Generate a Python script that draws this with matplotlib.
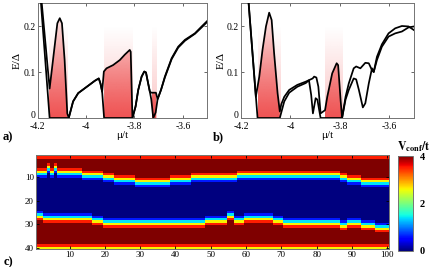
import numpy as np
import matplotlib
matplotlib.use("Agg")
import matplotlib.pyplot as plt
from matplotlib.colors import to_rgb
from matplotlib.transforms import ScaledTranslation

plt.rcParams['font.family'] = ['Liberation Serif', 'DejaVu Serif']
plt.rcParams['mathtext.fontset'] = 'stix'

# ---------------- Panel a data ----------------
a_mu_upper = [-4.20, -4.150, -4.136, -4.118, -4.108, -4.099, -4.088, -4.077, -4.071,
              -4.064, -4.053, -4.032, -3.991, -3.963, -3.947, -3.940, -3.933, -3.926,
              -3.915, -3.888, -3.860, -3.839, -3.819, -3.815, -3.808, -3.795, -3.784,
              -3.770, -3.759, -3.752, -3.746, -3.736, -3.729, -3.711, -3.704, -3.690,
              -3.674, -3.646, -3.619, -3.591, -3.550, -3.522, -3.497]
a_E_upper = [0.35, 0.064, 0.126, 0.206, 0.217, 0.206, 0.126, 0.010, 0.0,
             0.014, 0.036, 0.054, 0.070, 0.081, 0.086, 0.075, 0.057, 0.101,
             0.108, 0.115, 0.126, 0.138, 0.148, 0.144, 0.0, 0.025, 0.061,
             0.090, 0.101, 0.099, 0.083, 0.057, 0.055, 0.055, 0.041, 0.061,
             0.090, 0.130, 0.155, 0.170, 0.184, 0.199, 0.212]
a_mu_lower = [-4.20, -4.150, -4.071, -4.064, -4.053, -4.032, -3.991, -3.963, -3.947,
              -3.940, -3.933, -3.925, -3.808, -3.795, -3.784, -3.770, -3.759, -3.752,
              -3.746, -3.736, -3.730, -3.722, -3.712, -3.704, -3.690, -3.674, -3.646,
              -3.619, -3.591, -3.550, -3.522, -3.497]
a_E_lower = [0.35, 0.0, 0.0, 0.014, 0.036, 0.054, 0.070, 0.081, 0.086,
             0.075, 0.057, 0.0, 0.0, 0.025, 0.061, 0.090, 0.101, 0.099,
             0.083, 0.057, 0.040, 0.0, 0.012, 0.041, 0.061, 0.088, 0.128,
             0.153, 0.168, 0.183, 0.197, 0.210]
a_regions = [(-4.152, -4.077), (-3.925, -3.808), (-3.729, -3.712)]

# ---------------- Panel b data ----------------
b_mu_upper = [-4.185, -4.140, -4.126, -4.113, -4.099, -4.086, -4.076, -4.066, -4.052,
              -4.043, -4.037, -4.025, -4.005, -3.972, -3.938, -3.922, -3.910, -3.904,
              -3.895, -3.887, -3.878, -3.860, -3.851, -3.831, -3.813, -3.807, -3.797,
              -3.791, -3.777, -3.764, -3.744, -3.734, -3.717, -3.697, -3.683, -3.670,
              -3.663, -3.650, -3.630, -3.603, -3.576, -3.549, -3.522, -3.500]
b_E_upper = [0.36, 0.046, 0.090, 0.148, 0.199, 0.229, 0.213, 0.141, 0.054,
             0.014, 0.030, 0.046, 0.061, 0.072, 0.079, 0.083, 0.086, 0.090,
             0.088, 0.068, 0.010, 0.017, 0.046, 0.097, 0.119, 0.115, 0.039,
             0.0, 0.046, 0.075, 0.108, 0.112, 0.108, 0.120, 0.119, 0.104,
             0.100, 0.126, 0.155, 0.177, 0.184, 0.188, 0.197, 0.199]
b_mu_lower = [-4.185, -4.133, -4.043, -4.037, -4.025, -4.005, -3.972, -3.938, -3.925,
              -3.916, -3.909, -3.898, -3.891, -3.878, -3.860, -3.791, -3.777, -3.764,
              -3.744, -3.734, -3.723, -3.707, -3.697, -3.683, -3.670, -3.663, -3.650,
              -3.630, -3.603, -3.576, -3.549, -3.522, -3.500]
b_E_lower = [0.36, 0.0, 0.0, 0.012, 0.036, 0.055, 0.068, 0.076, 0.082,
             0.050, 0.010, 0.043, 0.040, 0.0, 0.0, 0.0, 0.040, 0.061,
             0.086, 0.084, 0.061, 0.023, 0.032, 0.075, 0.108, 0.100, 0.133,
             0.160, 0.184, 0.195, 0.200, 0.199, 0.191]
b_regions = [(-4.133, -4.043), (-3.860, -3.791)]

# ---------------- Panel c data ----------------
n_sites = 40
n_cols = 100
top_vals = [8, 6, 8, 6, 8, 9, 10, 11, 12, 11, 10, 9, 10, 11, 12]
top_counts = [3, 1, 1, 1, 7, 6, 3, 6, 10, 6, 13, 29, 2, 4, 8]
bot_vals = [27, 28, 29, 30, 29, 27, 29, 28, 29, 30, 31, 30, 31, 32]
bot_counts = [2, 14, 3, 29, 6, 2, 3, 8, 3, 16, 2, 4, 4, 4]
wall_top_profile = [3.5, 2.6, 1.4, 0.6]   # rows t-1, t, t+1, t+2 (t = yellow row)
wall_bot_profile = [0.6, 1.4, 2.6, 3.5]   # rows b-2, b-1, b, b+1
edge_profile = [2.6, 3.5]                 # outermost rows
V0 = 4.0

top_edge = np.repeat(top_vals, top_counts)
bot_edge = np.repeat(bot_vals, bot_counts)
V = np.zeros((n_sites, n_cols))
for c in range(n_cols):
    t = top_edge[c]
    b = bot_edge[c]
    col = np.zeros(n_sites)
    for r in range(1, n_sites + 1):
        if r <= t - 2 or r >= b + 2:
            v = V0
        elif t - 1 <= r <= t + 2:
            v = wall_top_profile[r - (t - 1)]
        elif b - 2 <= r <= b + 1:
            v = wall_bot_profile[r - (b - 2)]
        else:
            v = 0.0
        col[r - 1] = v
    col[0] = min(col[0], edge_profile[0])
    col[1] = min(col[1], edge_profile[1])
    col[-1] = min(col[-1], edge_profile[0])
    col[-2] = min(col[-2], edge_profile[1])
    V[:, c] = col

# ---------------- Figure ----------------
fig = plt.figure(figsize=(4.43, 2.67), dpi=100)
spine_col = '0.45'
fs = 7

def gradient_img(a_bottom, a_top, rgb, n=100):
    rgba = np.zeros((n, 2, 4))
    rgba[..., :3] = rgb
    alphas = np.linspace(a_top, a_bottom, n)
    rgba[..., 3] = alphas[:, None]
    return rgba

def line_panel(ax, mu_u, E_u, mu_l, E_l, regions):
    red = to_rgb('#ee4646')
    for (x0, x1) in regions:
        # faint rectangle
        ax.imshow(gradient_img(0.45, 0.0, to_rgb('#f47a7a')), extent=(x0, x1, 0, 0.2),
                  aspect='auto', origin='upper', zorder=1, interpolation='bilinear')
        # stronger fill under upper curve
        xs = np.linspace(x0, x1, 200)
        ys = np.interp(xs, mu_u, E_u)
        poly = ax.fill_between(xs, 0, ys, color='none', lw=0)
        im = ax.imshow(gradient_img(0.9, 0.12, red), extent=(x0, x1, 0, 0.23),
                       aspect='auto', origin='upper', zorder=2, interpolation='bilinear')
        im.set_clip_path(poly.get_paths()[0], transform=ax.transData)
    ax.plot(mu_u, E_u, color='black', lw=1.25, zorder=4, solid_joinstyle='round')
    ax.plot(mu_l, E_l, color='black', lw=1.25, zorder=4, solid_joinstyle='round')
    ax.set_xlim(-4.2, -3.5)
    ax.set_ylim(0, 0.25)
    ax.set_xticks([-4.2, -4.0, -3.8, -3.6])
    ax.set_xticklabels(['-4.2', '-4', '-3.8', '-3.6'])
    ax.set_yticks([0, 0.1, 0.2])
    ax.set_yticklabels(['0', '0.1', '0.2'])
    ax.tick_params(direction='in', top=True, right=True, length=2.5, width=0.6,
                   labelsize=fs, color='0.3')
    ax.tick_params(axis='x', pad=3)
    ax.tick_params(axis='y', pad=1.5)
    # lift the "0" label slightly so it clears the x tick labels
    lab0 = ax.get_yticklabels()[0]
    lab0.set_transform(lab0.get_transform() + ScaledTranslation(0, 2.5 / 72, fig.dpi_scale_trans))
    for s in ax.spines.values():
        s.set_color(spine_col)
        s.set_linewidth(0.7)
    ax.set_xlabel('μ/t', fontsize=8, labelpad=0)
    ax.set_ylabel('E/Δ', fontsize=8, labelpad=1)

ax_a = fig.add_axes([37.5 / 443, 1 - 118 / 267, (207 - 37.5) / 443, 115 / 267])
line_panel(ax_a, a_mu_upper, a_E_upper, a_mu_lower, a_E_lower, a_regions)
ax_b = fig.add_axes([241 / 443, 1 - 118 / 267, (414 - 241) / 443, 115 / 267])
line_panel(ax_b, b_mu_upper, b_E_upper, b_mu_lower, b_E_lower, b_regions)

ax_c = fig.add_axes([36 / 443, 1 - 249 / 267, (389 - 36) / 443, 94 / 267])
im = ax_c.imshow(V, cmap='jet', vmin=0, vmax=4, aspect='auto', interpolation='nearest',
                 extent=(0.5, n_cols + 0.5, n_sites + 0.5, 0.5))
ax_c.set_xticks(np.arange(10, 101, 10))
ax_c.set_yticks([10, 20, 30, 40])
ax_c.tick_params(direction='in', top=True, right=True, length=2.5, width=0.6,
                 labelsize=6.5, pad=1.5)
for s in ax_c.spines.values():
    s.set_color(spine_col)
    s.set_linewidth(0.7)

cax = fig.add_axes([398 / 443, 1 - 250.5 / 267, 15 / 443, 94.5 / 267])
cb = fig.colorbar(im, cax=cax, ticks=[0, 2, 4])
cb.ax.tick_params(direction='in', length=0, labelsize=7.5, pad=5)
for lab in cb.ax.get_yticklabels():
    lab.set_fontweight('bold')
cb.outline.set_edgecolor(spine_col)
cb.outline.set_linewidth(0.7)

fig.text(397 / 443, 1 - 150 / 267, r'$\mathbf{V_{conf}/t}$', fontsize=8.5, ha='left',
         va='baseline')
fig.text(3 / 443, 1 - 140 / 267, 'a)', fontsize=9, fontweight='bold', ha='left', va='baseline')
fig.text(213 / 443, 1 - 140 / 267, 'b)', fontsize=9, fontweight='bold', ha='left', va='baseline')
fig.text(4 / 443, 1 - 265 / 267, 'c)', fontsize=9, fontweight='bold', ha='left', va='baseline')

fig.savefig('out.png', dpi=100)
